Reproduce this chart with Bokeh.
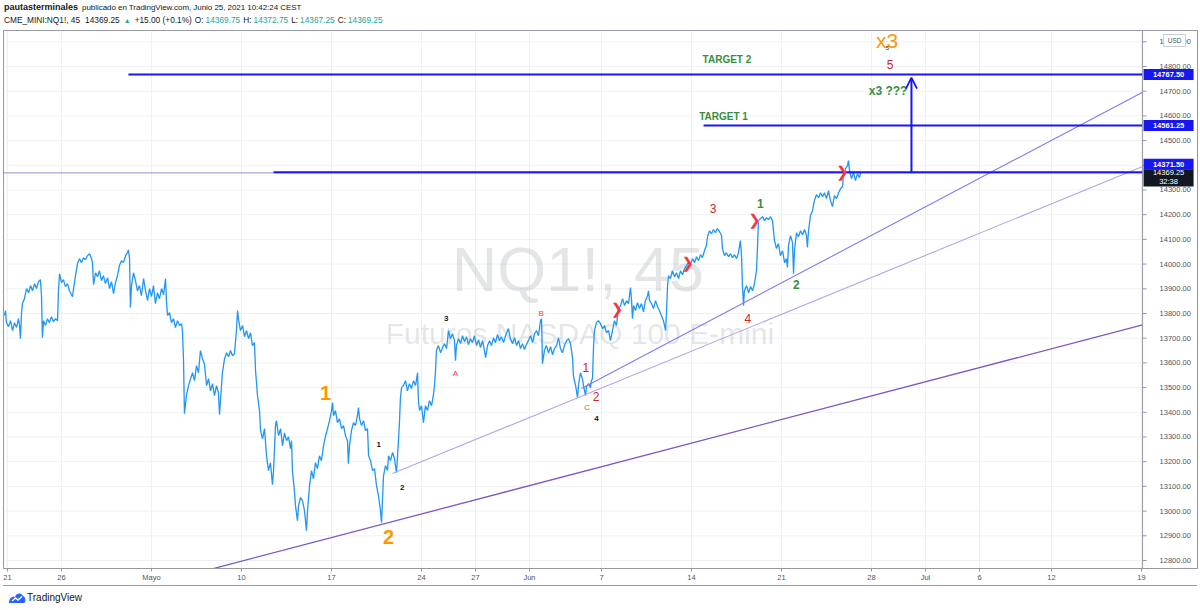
from bokeh.plotting import figure
from bokeh.models import Range1d, FixedTicker, Arrow, OpenHead, Div
from bokeh.layouts import column
from bokeh.core.properties import value
from bokeh.embed import file_html
from bokeh.resources import INLINE

FONT = "Liberation Sans"

# ---------------- data (x = trading days since 21 Apr 2021, y = NQ1! close) ----------------
seg_april = [(-0.17,13792),(-0.11,13812),(-0.06,13763),(0.06,13747),(0.17,13771),(0.28,13731),(0.39,13763),(0.5,13743),(0.61,13779),(0.67,13751),(0.72,13698),(0.78,13803),(0.83,13840),(0.94,13860),(1.06,13901),(1.17,13884),(1.28,13913),(1.39,13892),(1.5,13921),(1.61,13901),(1.72,13929),(1.83,13937),(1.89,13872),(1.94,13702),(2.0,13771),(2.11,13751),(2.22,13779),(2.33,13763),(2.44,13787),(2.56,13767),(2.67,13779),(2.78,13771),(2.83,13892),(2.89,13961),(3.0,13925),(3.11,13937),(3.22,13909),(3.33,13921),(3.44,13892),(3.56,13876),(3.61,13868),(3.67,13901),(3.78,13953),(3.89,14002),(4.0,14022),(4.11,14006),(4.22,14026),(4.33,14018),(4.44,14034),(4.56,14042),(4.67,14022),(4.72,14006),(4.78,13917),(4.89,13965),(5.0,13949),(5.11,13973),(5.22,13933),(5.33,13953),(5.44,13921),(5.56,13945),(5.67,13901),(5.78,13929),(5.89,13880),(6.0,13925),(6.11,13953),(6.22,13994),(6.33,14014),(6.44,14006),(6.56,14034),(6.67,14046),(6.72,14058),(6.78,14022),(6.83,13824),(6.89,13913),(7.0,13965),(7.11,13933),(7.22,13892),(7.33,13913),(7.44,13872),(7.56,13941),(7.67,13892),(7.78,13852),(7.89,13901),(8.0,13868),(8.11,13913),(8.22,13840),(8.33,13884),(8.44,13860),(8.56,13901),(8.67,13876),(8.78,13941),(8.83,13852),(8.89,13792),(9.0,13803),(9.11,13763),(9.22,13779),(9.33,13743),(9.44,13771),(9.56,13751),(9.67,13759),(9.72,13731)]

seg_may = [(9.78,13609),(9.83,13394),(9.94,13467),(10.06,13508),(10.17,13536),(10.28,13560),(10.39,13528),(10.5,13589),(10.61,13560),(10.72,13650),(10.83,13617),(10.94,13597),(11.06,13508),(11.17,13536),(11.28,13487),(11.39,13516),(11.5,13467),(11.61,13508),(11.72,13479),(11.78,13390),(11.83,13447),(11.94,13560),(12.06,13617),(12.17,13641),(12.28,13625),(12.39,13650),(12.5,13629),(12.61,13637),(12.72,13731),(12.78,13812),(12.83,13779),(12.94,13731),(13.06,13751),(13.17,13706),(13.28,13731),(13.39,13698),(13.5,13722),(13.61,13670),(13.72,13682),(13.78,13569),(13.89,13467),(14.0,13407),(14.06,13326),(14.17,13293),(14.28,13334),(14.39,13224),(14.5,13164),(14.61,13196),(14.72,13107),(14.78,13164),(14.89,13346),(14.94,13366),(15.06,13305),(15.17,13334),(15.28,13265),(15.39,13317),(15.5,13285),(15.61,13301),(15.72,13253),(15.78,13285),(15.83,13164),(15.94,13083),(16.0,13022),(16.11,12961),(16.17,13022),(16.28,13055),(16.39,13042),(16.5,13002),(16.61,12921),(16.67,13002),(16.78,13103),(16.89,13164),(17.0,13131),(17.11,13196),(17.22,13172),(17.33,13224),(17.44,13204),(17.56,13265),(17.67,13305),(17.78,13334),(17.89,13366),(18.0,13407),(18.06,13439),(18.11,13386),(18.22,13407),(18.33,13358),(18.44,13374),(18.56,13334),(18.67,13346),(18.78,13305),(18.89,13285),(18.94,13192),(19.0,13265),(19.11,13326),(19.22,13358),(19.33,13346),(19.44,13386),(19.5,13419),(19.56,13374),(19.67,13346),(19.78,13366),(19.89,13326),(20.0,13334),(20.06,13224),(20.17,13204),(20.28,13164),(20.39,13172),(20.5,13103),(20.61,13062),(20.72,13002),(20.78,12953),(20.83,13042),(20.89,13143),(21.0,13184),(21.11,13164),(21.17,13224),(21.28,13204),(21.39,13237),(21.5,13212),(21.61,13156),(21.67,13224),(21.72,13285),(21.78,13366),(21.83,13459),(21.89,13500),(22.0,13508),(22.11,13528),(22.22,13487),(22.33,13516),(22.44,13496),(22.56,13528),(22.67,13508),(22.78,13560),(22.83,13447),(22.89,13407),(23.0,13427),(23.11,13358),(23.22,13427),(23.33,13407),(23.44,13447),(23.56,13427),(23.67,13475),(23.72,13508),(23.78,13569)]

seg_late_may = [(23.83,13650),(23.94,13670),(24.06,13641),(24.17,13662),(24.28,13678),(24.39,13658),(24.5,13731),(24.61,13698),(24.72,13718),(24.83,13690),(24.89,13609),(24.94,13670),(25.06,13698),(25.17,13678),(25.28,13710),(25.39,13686),(25.5,13706),(25.61,13674),(25.72,13698),(25.83,13682),(25.94,13710),(26.06,13670),(26.17,13694),(26.28,13662),(26.39,13690),(26.5,13650),(26.56,13621),(26.67,13670),(26.78,13690),(26.89,13670),(27.0,13702),(27.11,13682),(27.22,13714),(27.33,13690),(27.44,13706),(27.56,13682),(27.67,13710),(27.78,13731),(27.83,13739),(27.94,13698),(28.06,13678),(28.17,13702),(28.28,13670),(28.39,13690),(28.5,13658),(28.61,13678),(28.72,13654),(28.83,13674),(28.94,13690),(29.06,13710),(29.17,13682),(29.28,13718),(29.39,13731),(29.5,13710),(29.61,13771),(29.67,13779),(29.72,13597),(29.83,13650),(29.94,13670),(30.06,13641),(30.17,13666),(30.28,13633),(30.39,13658),(30.5,13670),(30.61,13702),(30.72,13658),(30.83,13641),(30.94,13670),(31.06,13690),(31.17,13698),(31.28,13678),(31.39,13621),(31.44,13548),(31.56,13508),(31.61,13487),(31.67,13459),(31.72,13508),(31.83,13560),(31.94,13536),(32.0,13508),(32.06,13487),(32.11,13467),(32.17,13504),(32.28,13516),(32.39,13500),(32.44,13528),(32.5,13536),(32.56,13670),(32.61,13731),(32.72,13763),(32.83,13771),(32.94,13759)]

seg_june = [(33.06,13739),(33.17,13751),(33.28,13722),(33.39,13731),(33.5,13690),(33.61,13731),(33.72,13771),(33.83,13751),(33.94,13820),(34.06,13832),(34.17,13860),(34.28,13832),(34.39,13852),(34.5,13840),(34.61,13905),(34.67,13852),(34.72,13779),(34.78,13832),(34.89,13812),(35.0,13844),(35.11,13820),(35.22,13840),(35.33,13807),(35.44,13852),(35.56,13872),(35.61,13892),(35.67,13852),(35.78,13840),(35.89,13820),(36.0,13852),(36.11,13828),(36.22,13812),(36.33,13792),(36.44,13771),(36.56,13731),(36.61,13803),(36.67,13913),(36.72,13953),(36.83,13941),(36.94,13973),(37.06,13949),(37.17,13965),(37.28,13941),(37.39,13973),(37.5,13957),(37.61,13981),(37.72,13994),(37.83,14006),(37.94,13998),(38.06,14022),(38.17,14006),(38.28,14030),(38.39,14014),(38.5,14038),(38.61,14026),(38.72,14054),(38.83,14075),(38.89,14111),(39.0,14135),(39.11,14123),(39.22,14140),(39.33,14127),(39.44,14144),(39.56,14131),(39.67,14115),(39.72,14063),(39.83,14034),(39.94,14046),(40.06,14030),(40.17,14042),(40.28,14026),(40.39,14038),(40.5,14022),(40.61,14046),(40.72,14095),(40.78,14034),(40.83,13913),(40.89,13832),(40.94,13892),(41.06,13913),(41.17,13884),(41.28,13909),(41.39,13892),(41.5,13921),(41.61,13973),(41.67,14075),(41.72,14176),(41.83,14184),(41.94,14192),(42.06,14176),(42.17,14188),(42.28,14180),(42.39,14192),(42.5,14176),(42.61,14095),(42.72,14063),(42.83,14083),(42.94,14034),(43.06,14054),(43.17,14006),(43.28,14022),(43.33,13986),(43.39,14075),(43.5,14115),(43.61,14087),(43.67,13961),(43.72,14054),(43.83,14127),(43.94,14111),(44.06,14135),(44.17,14119),(44.28,14140),(44.39,14115),(44.44,14067),(44.5,14135),(44.61,14196),(44.72,14216),(44.83,14257),(44.94,14281),(45.06,14269),(45.17,14289),(45.28,14273),(45.39,14289),(45.5,14265),(45.61,14297),(45.72,14257),(45.83,14233),(45.94,14277),(46.06,14265),(46.17,14289),(46.28,14305),(46.39,14314),(46.44,14358),(46.56,14387),(46.67,14399),(46.72,14419),(46.78,14378),(46.89,14346),(47.0,14371),(47.11,14338),(47.22,14366),(47.33,14350),(47.39,14369.25)]

series = seg_april + seg_may + seg_late_may + seg_june
days = [d for d, _ in series]
closes = [c for _, c in series]

y_ticks = list(range(12800, 15000, 100))
x_tick_days = [0, 3, 8, 13, 18, 23, 26, 29, 33, 38, 43, 48, 51, 54, 58, 63]
x_tick_labels = ["21", "26", "Mayo", "10", "17", "24", "27", "Jun", "7", "14", "21", "28", "Jul", "6", "12", "19"]

level_prices = [14767.5, 14561.25, 14371.5]
level_labels = ["14767.50", "14561.25", "14371.50"]
level_start_days = [6.72, 38.67, 14.78]
last_close = 14369.25
countdown = "32:38"
arrow_day = 50.22
arrow_top = 14755

trend_x0 = [11.0, 21.39, 31.89]
trend_y0 = [12759, 13152, 13496]
trend_y1 = [13754, 14395, 14696]
trend_colors = ["#7e57c2", "#b9a3e3", "#7d7df2"]
trend_widths = [1.3, 1.1, 1.1]

orange_txt, orange_d, orange_p = ["1", "2"], [17.67, 21.17], [13479, 12894]
black_txt, black_d, black_p = ["1", "2", "3", "4"], [20.63, 21.93, 24.37, 32.72], [13270, 13094, 13779, 13376]
abc_txt, abc_d, abc_p = ["A", "B", "C"], [24.89, 29.65, 32.2], [13556, 13799, 13421]
red_txt, red_d, red_p = ["1", "2", "3", "4", "5"], [32.13, 32.7, 39.2, 41.13, 49.03], [13582, 13464, 14227, 13779, 14808]
green_txt, green_d, green_p = ["1", "2"], [41.83, 43.83], [14244, 13917]
chev_d, chev_p = [33.87, 37.79, 41.5, 46.37], [13819, 14004, 14179, 14372]
target_txt, target_d, target_p = ["TARGET 2", "TARGET 1"], [39.97, 39.78], [14828, 14599]

# ---------------- geometry ----------------
X0, X1 = -0.222, 66.111          # frame spans the time area plus the price scale
Y0, Y1 = 12767.6, 14945.7
AXIS_X = 63.06                   # left edge of the price scale
PXX = (X1 - X0) / 1194.0         # data units per pixel
PXY = (Y1 - Y0) / 538.0

p = figure(width=1200, height=556, x_range=Range1d(X0, X1), y_range=Range1d(Y0, Y1),
           output_backend="svg", toolbar_location=None, y_axis_location=None,
           min_border_left=3, min_border_right=3, min_border_top=1, min_border_bottom=17)
p.background_fill_color = "white"
p.border_fill_color = "white"
p.outline_line_color = "#9598a1"
p.grid.visible = False

AX = "#9598a1"
TXT = "#50535e"
p.xaxis.ticker = FixedTicker(ticks=x_tick_days)
p.xaxis.major_label_overrides = dict(zip(x_tick_days, x_tick_labels))
p.xaxis.major_label_text_font = FONT
p.xaxis.major_label_text_font_size = "7.5px"
p.xaxis.major_label_text_color = TXT
p.xaxis.major_tick_out = 3
p.xaxis.major_tick_in = 0
p.xaxis.minor_tick_out = 0
p.xaxis.minor_tick_in = 0
p.xaxis.major_label_standoff = 1
p.xaxis.axis_line_color = AX
p.xaxis.major_tick_line_color = AX

GRID = "#edf1f7"
p.segment(x0=x_tick_days, y0=[Y0] * len(x_tick_days), x1=x_tick_days, y1=[Y1] * len(x_tick_days),
          line_color=GRID, line_width=1)
p.segment(x0=[X0] * len(y_ticks), y0=y_ticks, x1=[AXIS_X] * len(y_ticks), y1=y_ticks,
          line_color=GRID, line_width=1)

# watermark
p.text(x=[31.69], y=[13981], text=["NQ1!, 45"], text_font=value(FONT), text_font_size="63px",
       text_color="#787b86", text_alpha=0.2, text_align="center", text_baseline="middle")
p.text(x=[31.8], y=[13719], text=["Futuros NASDAQ 100 E-mini"], text_font=value(FONT), text_font_size="30px",
       text_color="#787b86", text_alpha=0.2, text_align="center", text_baseline="middle")

# price
p.line(days, closes, line_color="#2196f3", line_width=1.3)

# trend lines
p.segment(x0=trend_x0, y0=trend_y0, x1=[AXIS_X] * 3, y1=trend_y1, line_color=trend_colors, line_width=trend_widths)

# current price dotted line and levels
p.segment(x0=[X0], y0=[last_close], x1=[AXIS_X], y1=[last_close], line_color="#1c1c9c", line_dash="1 1", line_width=1)
BLUE = "#1717f2"
p.segment(x0=level_start_days, y0=level_prices, x1=[AXIS_X] * 3, y1=level_prices, line_color=BLUE, line_width=2)
p.add_layout(Arrow(end=OpenHead(size=11, line_color=BLUE, line_width=1.8),
                   x_start=arrow_day, y_start=level_prices[2], x_end=arrow_day, y_end=arrow_top,
                   line_color=BLUE, line_width=2))

def txt(xs, ys, texts, color, size, style="normal", font=FONT, align="center"):
    p.text(x=xs, y=ys, text=texts, text_color=color, text_font=value(font), text_font_size=size,
           text_font_style=style, text_align=align, text_baseline="middle")

txt(orange_d, orange_p, orange_txt, "#ff9800", "20px", "bold")
txt(black_d, black_p, black_txt, "#131722", "8px", "bold")
txt(abc_d, abc_p, abc_txt, "#f44336", "8px")
txt(red_d, red_p, red_txt, "#c62828", "12px")
txt(green_d, green_p, green_txt, "#388e3c", "12px", "bold")
txt(chev_d, chev_p, ["\u276f"] * len(chev_d), "#f23645", "15px", "normal", "DejaVu Sans")
txt(target_d, target_p, target_txt, "#388e3c", "10px", "bold")
txt([48.92], [14699], ["x3 ???"], "#388e3c", "12px", "bold")
txt([48.86], [14905], ["x3"], "#ff9800", "21px")
txt([48.89], [14873], ["5"], "#131722", "6px")

# ---------------- price scale ----------------
p.segment(x0=[AXIS_X], y0=[Y0], x1=[AXIS_X], y1=[Y1], line_color=AX, line_width=1)
p.segment(x0=[AXIS_X] * len(y_ticks), y0=y_ticks, x1=[AXIS_X + 4 * PXX] * len(y_ticks), y1=y_ticks,
          line_color=AX, line_width=1)
txt([AXIS_X + 17 * PXX] * len(y_ticks), y_ticks, [f"{t:.2f}" for t in y_ticks], TXT, "7.5px", align="left")

BL, BR = AXIS_X + 1 * PXX, AXIS_X + 51 * PXX
BC = (BL + BR) / 2
lab_y = [level_prices[0], level_prices[1], level_prices[2] + 8 * PXY]
p.quad(left=[BL] * 3, right=[BR] * 3, bottom=[v - 5.5 * PXY for v in lab_y], top=[v + 5.5 * PXY for v in lab_y],
       fill_color=BLUE, line_color=None)
txt([BC] * 3, lab_y, level_labels, "white", "7.5px", "bold")
p.quad(left=[BL], right=[BR], bottom=[last_close - 13.5 * PXY], top=[last_close + 3.5 * PXY],
       fill_color="#131722", line_color=None)
txt([BC, BC], [last_close, last_close - 9 * PXY], [f"{last_close:.2f}", countdown], "white", "7.5px")
usd_y = Y1 - 10 * PXY
p.quad(left=[AXIS_X + 21 * PXX], right=[AXIS_X + 43 * PXX], bottom=[usd_y - 6 * PXY], top=[usd_y + 6 * PXY],
       fill_color="white", line_color="#c9ccd4")
txt([AXIS_X + 32 * PXX], [usd_y], ["USD"], TXT, "6.5px")

# ---------------- header / footer ----------------
TEAL = "#26a69a"
def sp(text, gap, color="#131722", extra=""):
    return f'<span style="margin-left:{gap}px;color:{color};{extra}">{text}</span>'

header_html = (
    '<div style="position:relative;width:1200px;height:29px;font-family:\'Liberation Sans\';'
    'white-space:nowrap;color:#131722;">'
    '<div style="position:absolute;left:4px;top:2px;font-size:9px;line-height:11px;">'
    '<b>pautasterminales</b>'
    '<span style="margin-left:4px;font-size:8px;letter-spacing:-0.05px;">'
    'publicado en TradingView.com, Junio 25, 2021 10:42:24 CEST</span></div>'
    '<div style="position:absolute;left:4px;top:15px;font-size:8.3px;line-height:11px;">'
    + sp("CME_MINI:NQ1!, 45", 0)
    + sp("14369.25", 5)
    + sp("\u25b2", 4, TEAL, "font-size:7px;")
    + sp("+15.00 (+0.1%)", 4)
    + sp("O:", 3)
    + sp("14369.75", 2, TEAL)
    + sp("H:", 3)
    + sp("14372.75", 2, TEAL)
    + sp("L:", 3)
    + sp("14367.25", 2, TEAL)
    + sp("C:", 3)
    + sp("14369.25", 2, TEAL)
    + '</div></div>')
header = Div(text=header_html, width=1200, height=29, margin=0)

footer_html = (
    '<div style="position:relative;margin-left:3px;width:1194px;height:24px;border-top:1px solid #9598a1;'
    'font-family:\'Liberation Sans\';font-size:10px;line-height:12px;white-space:nowrap;">'
    '<svg style="position:absolute;left:6px;top:6px" width="17" height="11" viewBox="0 0 17 11">'
    '<path d="M0 11 C0 6 3 4 6 5 C7 1 12 0 14 4 C17 5 17 11 15 11 Z" fill="#2962ff"/>'
    '<path d="M3 9 L6.5 6 L9 8 L13 4.5" stroke="white" stroke-width="1.4" fill="none"/></svg>'
    '<span style="position:absolute;left:24px;top:6px;color:#131722;">TradingView</span>'
    '</div>')
footer = Div(text=footer_html, width=1200, height=25, margin=0)

layout = column(header, p, footer, spacing=0, margin=0)
open("out.html", "w").write(file_html(layout, INLINE))
